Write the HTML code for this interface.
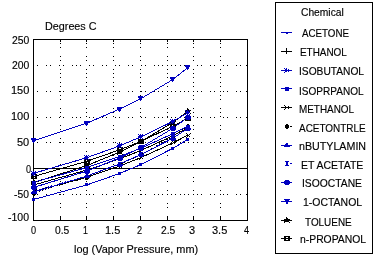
<!DOCTYPE html><html><head><meta charset="utf-8"><style>html,body{margin:0;padding:0;background:#fff;width:379px;height:260px;overflow:hidden}svg{position:absolute;left:0;top:0;will-change:transform}text{font-family:"Liberation Sans",sans-serif;font-size:11px;fill:#000;stroke:#000;stroke-width:0.15px}</style></head><body>
<svg width="379" height="260" viewBox="0 0 379 260">
<path d="M60,43h1v1h-1zM60,47h1v1h-1zM60,56h1v1h-1zM60,60h1v1h-1zM60,69h1v1h-1zM60,73h1v1h-1zM60,77h1v1h-1zM60,82h1v1h-1zM60,86h1v1h-1zM60,91h1v1h-1zM60,95h1v1h-1zM60,99h1v1h-1zM60,108h1v1h-1zM60,112h1v1h-1zM60,116h1v1h-1zM60,125h1v1h-1zM60,129h1v1h-1zM60,138h1v1h-1zM60,142h1v1h-1zM60,151h1v1h-1zM60,155h1v1h-1zM60,164h1v1h-1zM60,177h1v1h-1zM60,181h1v1h-1zM60,190h1v1h-1zM60,194h1v1h-1zM60,203h1v1h-1zM60,207h1v1h-1zM60,216h1v4h-1zM60,40h1v2h-1zM86,43h1v1h-1zM86,47h1v1h-1zM86,56h1v1h-1zM86,60h1v1h-1zM86,69h1v1h-1zM86,73h1v1h-1zM86,77h1v1h-1zM86,82h1v1h-1zM86,86h1v1h-1zM86,91h1v1h-1zM86,95h1v1h-1zM86,99h1v1h-1zM86,108h1v1h-1zM86,112h1v1h-1zM86,116h1v1h-1zM86,125h1v1h-1zM86,129h1v1h-1zM86,138h1v1h-1zM86,142h1v1h-1zM86,151h1v1h-1zM86,155h1v1h-1zM86,164h1v1h-1zM86,177h1v1h-1zM86,181h1v1h-1zM86,190h1v1h-1zM86,194h1v1h-1zM86,203h1v1h-1zM86,207h1v1h-1zM86,216h1v4h-1zM86,40h1v2h-1zM113,43h1v1h-1zM113,47h1v1h-1zM113,56h1v1h-1zM113,60h1v1h-1zM113,69h1v1h-1zM113,73h1v1h-1zM113,77h1v1h-1zM113,82h1v1h-1zM113,86h1v1h-1zM113,91h1v1h-1zM113,95h1v1h-1zM113,99h1v1h-1zM113,108h1v1h-1zM113,112h1v1h-1zM113,116h1v1h-1zM113,125h1v1h-1zM113,129h1v1h-1zM113,138h1v1h-1zM113,142h1v1h-1zM113,151h1v1h-1zM113,155h1v1h-1zM113,164h1v1h-1zM113,177h1v1h-1zM113,181h1v1h-1zM113,190h1v1h-1zM113,194h1v1h-1zM113,203h1v1h-1zM113,207h1v1h-1zM113,216h1v4h-1zM113,40h1v2h-1zM140,43h1v1h-1zM140,47h1v1h-1zM140,56h1v1h-1zM140,60h1v1h-1zM140,69h1v1h-1zM140,73h1v1h-1zM140,77h1v1h-1zM140,82h1v1h-1zM140,86h1v1h-1zM140,91h1v1h-1zM140,95h1v1h-1zM140,99h1v1h-1zM140,108h1v1h-1zM140,112h1v1h-1zM140,116h1v1h-1zM140,125h1v1h-1zM140,129h1v1h-1zM140,138h1v1h-1zM140,142h1v1h-1zM140,151h1v1h-1zM140,155h1v1h-1zM140,164h1v1h-1zM140,177h1v1h-1zM140,181h1v1h-1zM140,190h1v1h-1zM140,194h1v1h-1zM140,203h1v1h-1zM140,207h1v1h-1zM140,216h1v4h-1zM140,40h1v2h-1zM167,43h1v1h-1zM167,47h1v1h-1zM167,56h1v1h-1zM167,60h1v1h-1zM167,69h1v1h-1zM167,73h1v1h-1zM167,77h1v1h-1zM167,82h1v1h-1zM167,86h1v1h-1zM167,91h1v1h-1zM167,95h1v1h-1zM167,99h1v1h-1zM167,108h1v1h-1zM167,112h1v1h-1zM167,116h1v1h-1zM167,125h1v1h-1zM167,129h1v1h-1zM167,138h1v1h-1zM167,142h1v1h-1zM167,151h1v1h-1zM167,155h1v1h-1zM167,164h1v1h-1zM167,177h1v1h-1zM167,181h1v1h-1zM167,190h1v1h-1zM167,194h1v1h-1zM167,203h1v1h-1zM167,207h1v1h-1zM167,216h1v4h-1zM167,40h1v2h-1zM193,43h1v1h-1zM193,47h1v1h-1zM193,56h1v1h-1zM193,60h1v1h-1zM193,69h1v1h-1zM193,73h1v1h-1zM193,77h1v1h-1zM193,82h1v1h-1zM193,86h1v1h-1zM193,91h1v1h-1zM193,95h1v1h-1zM193,99h1v1h-1zM193,108h1v1h-1zM193,112h1v1h-1zM193,116h1v1h-1zM193,125h1v1h-1zM193,129h1v1h-1zM193,138h1v1h-1zM193,142h1v1h-1zM193,151h1v1h-1zM193,155h1v1h-1zM193,164h1v1h-1zM193,177h1v1h-1zM193,181h1v1h-1zM193,190h1v1h-1zM193,194h1v1h-1zM193,203h1v1h-1zM193,207h1v1h-1zM193,216h1v4h-1zM193,40h1v2h-1zM220,43h1v1h-1zM220,47h1v1h-1zM220,56h1v1h-1zM220,60h1v1h-1zM220,69h1v1h-1zM220,73h1v1h-1zM220,77h1v1h-1zM220,82h1v1h-1zM220,86h1v1h-1zM220,91h1v1h-1zM220,95h1v1h-1zM220,99h1v1h-1zM220,108h1v1h-1zM220,112h1v1h-1zM220,116h1v1h-1zM220,125h1v1h-1zM220,129h1v1h-1zM220,138h1v1h-1zM220,142h1v1h-1zM220,151h1v1h-1zM220,155h1v1h-1zM220,164h1v1h-1zM220,177h1v1h-1zM220,181h1v1h-1zM220,190h1v1h-1zM220,194h1v1h-1zM220,203h1v1h-1zM220,207h1v1h-1zM220,216h1v4h-1zM220,40h1v2h-1zM37,65h1v1h-1zM46,65h1v1h-1zM50,65h1v1h-1zM59,65h1v1h-1zM63,65h1v1h-1zM72,65h1v1h-1zM76,65h1v1h-1zM80,65h1v1h-1zM89,65h1v1h-1zM93,65h1v1h-1zM102,65h1v1h-1zM106,65h1v1h-1zM115,65h1v1h-1zM119,65h1v1h-1zM128,65h1v1h-1zM132,65h1v1h-1zM141,65h1v1h-1zM145,65h1v1h-1zM154,65h1v1h-1zM158,65h1v1h-1zM162,65h1v1h-1zM167,65h1v1h-1zM171,65h1v1h-1zM175,65h1v1h-1zM180,65h1v1h-1zM184,65h1v1h-1zM188,65h1v1h-1zM197,65h1v1h-1zM201,65h1v1h-1zM210,65h1v1h-1zM214,65h1v1h-1zM223,65h1v1h-1zM227,65h1v1h-1zM236,65h1v1h-1zM240,65h1v1h-1zM246,65h1v1h-1zM37,91h1v1h-1zM46,91h1v1h-1zM50,91h1v1h-1zM59,91h1v1h-1zM63,91h1v1h-1zM72,91h1v1h-1zM76,91h1v1h-1zM80,91h1v1h-1zM89,91h1v1h-1zM93,91h1v1h-1zM102,91h1v1h-1zM106,91h1v1h-1zM115,91h1v1h-1zM119,91h1v1h-1zM128,91h1v1h-1zM132,91h1v1h-1zM141,91h1v1h-1zM145,91h1v1h-1zM154,91h1v1h-1zM158,91h1v1h-1zM162,91h1v1h-1zM167,91h1v1h-1zM171,91h1v1h-1zM175,91h1v1h-1zM180,91h1v1h-1zM184,91h1v1h-1zM188,91h1v1h-1zM197,91h1v1h-1zM201,91h1v1h-1zM210,91h1v1h-1zM214,91h1v1h-1zM223,91h1v1h-1zM227,91h1v1h-1zM236,91h1v1h-1zM240,91h1v1h-1zM246,91h1v1h-1zM37,117h1v1h-1zM46,117h1v1h-1zM50,117h1v1h-1zM59,117h1v1h-1zM63,117h1v1h-1zM72,117h1v1h-1zM76,117h1v1h-1zM80,117h1v1h-1zM89,117h1v1h-1zM93,117h1v1h-1zM102,117h1v1h-1zM106,117h1v1h-1zM115,117h1v1h-1zM119,117h1v1h-1zM128,117h1v1h-1zM132,117h1v1h-1zM141,117h1v1h-1zM145,117h1v1h-1zM154,117h1v1h-1zM158,117h1v1h-1zM162,117h1v1h-1zM167,117h1v1h-1zM171,117h1v1h-1zM175,117h1v1h-1zM180,117h1v1h-1zM184,117h1v1h-1zM188,117h1v1h-1zM197,117h1v1h-1zM201,117h1v1h-1zM210,117h1v1h-1zM214,117h1v1h-1zM223,117h1v1h-1zM227,117h1v1h-1zM236,117h1v1h-1zM240,117h1v1h-1zM246,117h1v1h-1zM37,142h1v1h-1zM46,142h1v1h-1zM50,142h1v1h-1zM59,142h1v1h-1zM63,142h1v1h-1zM72,142h1v1h-1zM76,142h1v1h-1zM80,142h1v1h-1zM89,142h1v1h-1zM93,142h1v1h-1zM102,142h1v1h-1zM106,142h1v1h-1zM115,142h1v1h-1zM119,142h1v1h-1zM128,142h1v1h-1zM132,142h1v1h-1zM141,142h1v1h-1zM145,142h1v1h-1zM154,142h1v1h-1zM158,142h1v1h-1zM162,142h1v1h-1zM167,142h1v1h-1zM171,142h1v1h-1zM175,142h1v1h-1zM180,142h1v1h-1zM184,142h1v1h-1zM188,142h1v1h-1zM197,142h1v1h-1zM201,142h1v1h-1zM210,142h1v1h-1zM214,142h1v1h-1zM223,142h1v1h-1zM227,142h1v1h-1zM236,142h1v1h-1zM240,142h1v1h-1zM246,142h1v1h-1zM37,194h1v1h-1zM46,194h1v1h-1zM50,194h1v1h-1zM59,194h1v1h-1zM63,194h1v1h-1zM72,194h1v1h-1zM76,194h1v1h-1zM80,194h1v1h-1zM89,194h1v1h-1zM93,194h1v1h-1zM102,194h1v1h-1zM106,194h1v1h-1zM115,194h1v1h-1zM119,194h1v1h-1zM128,194h1v1h-1zM132,194h1v1h-1zM141,194h1v1h-1zM145,194h1v1h-1zM154,194h1v1h-1zM158,194h1v1h-1zM162,194h1v1h-1zM167,194h1v1h-1zM171,194h1v1h-1zM175,194h1v1h-1zM180,194h1v1h-1zM184,194h1v1h-1zM188,194h1v1h-1zM197,194h1v1h-1zM201,194h1v1h-1zM210,194h1v1h-1zM214,194h1v1h-1zM223,194h1v1h-1zM227,194h1v1h-1zM236,194h1v1h-1zM240,194h1v1h-1zM246,194h1v1h-1z" fill="#000"/>
<path d="M33,168h214v1h-214z" fill="#000"/>
<rect x="33.5" y="39.5" width="214" height="181" fill="none" stroke="#000" shape-rendering="crispEdges"/>
<polyline points="33.5,185.0 87.0,170.0 119.2,159.0 140.5,150.7 172.7,135.9 187.6,128.2" fill="none" stroke="#000000" stroke-width="1" shape-rendering="crispEdges"/>
<polyline points="33.5,191.5 87.0,177.2 119.2,166.2 140.5,157.8 172.7,143.0 187.6,135.3" fill="none" stroke="#000000" stroke-width="1" shape-rendering="crispEdges"/>
<polyline points="33.5,193.1 87.0,177.2 119.2,164.8 140.5,154.8 172.7,136.5 187.6,126.5" fill="none" stroke="#000000" stroke-width="1" stroke-dasharray="1 2" shape-rendering="crispEdges"/>
<polyline points="33.5,182.6 87.0,165.5 119.2,152.3 140.5,141.9 172.7,122.5 187.6,111.6" fill="none" stroke="#000000" stroke-width="1" shape-rendering="crispEdges"/>
<polyline points="33.5,176.5 87.0,161.2 119.2,150.0 140.5,141.5 172.7,126.4 187.6,118.2" fill="none" stroke="#000000" stroke-width="1" shape-rendering="crispEdges"/>
<polyline points="33.5,199.5 87.0,184.9 119.2,173.6 140.5,164.8 172.7,148.4 187.6,139.6" fill="none" stroke="#0000c0" stroke-width="1" shape-rendering="crispEdges"/>
<polyline points="33.5,173.4 87.0,157.6 119.2,146.0 140.5,137.0 172.7,121.5 187.6,112.9" fill="none" stroke="#0000c0" stroke-width="1" shape-rendering="crispEdges"/>
<polyline points="33.5,182.3 87.0,167.5 119.2,156.5 140.5,148.4 172.7,133.7 187.6,126.1" fill="none" stroke="#0000c0" stroke-width="1" shape-rendering="crispEdges"/>
<polyline points="33.5,192.1 87.0,176.0 119.2,164.1 140.5,154.8 172.7,138.3 187.6,128.6" fill="none" stroke="#0000c0" stroke-width="1" shape-rendering="crispEdges"/>
<polyline points="33.5,191.2 87.0,175.8 119.2,164.1 140.5,154.8 172.7,138.1 187.6,128.9" fill="none" stroke="#0000c0" stroke-width="1" stroke-dasharray="1 2" shape-rendering="crispEdges"/>
<polyline points="33.5,187.5 87.0,171.0 119.2,158.1 140.5,147.7 172.7,128.4 187.6,117.5" fill="none" stroke="#0000c0" stroke-width="1" shape-rendering="crispEdges"/>
<polyline points="33.5,140.9 87.0,123.1 119.2,109.2 140.5,98.9 172.7,79.6 187.6,67.8" fill="none" stroke="#0000c0" stroke-width="1" shape-rendering="crispEdges"/>
<path d="M33,181h1v6h-1z" fill="#000000"/>
<path d="M86,166h1v6h-1z" fill="#000000"/>
<path d="M119,155h1v6h-1z" fill="#000000"/>
<path d="M140,147h1v6h-1z" fill="#000000"/>
<path d="M172,132h1v6h-1z" fill="#000000"/>
<path d="M187,125h1v6h-1z" fill="#000000"/>
<path d="M32,189h1v1h-1zM33,190h1v1h-1zM34,191h1v1h-1zM35,190h1v1h-1zM35,192h1v1h-1zM33,192h1v1h-1zM32,193h1v1h-1zM36,189h1v1h-1z" fill="#000000"/>
<path d="M85,175h1v1h-1zM86,176h1v1h-1zM87,177h1v1h-1zM88,176h1v1h-1zM88,178h1v1h-1zM86,178h1v1h-1zM85,179h1v1h-1zM89,175h1v1h-1z" fill="#000000"/>
<path d="M118,164h1v1h-1zM119,165h1v1h-1zM120,166h1v1h-1zM121,165h1v1h-1zM121,167h1v1h-1zM119,167h1v1h-1zM118,168h1v1h-1zM122,164h1v1h-1z" fill="#000000"/>
<path d="M139,155h1v1h-1zM140,156h1v1h-1zM141,157h1v1h-1zM142,156h1v1h-1zM142,158h1v1h-1zM140,158h1v1h-1zM139,159h1v1h-1zM143,155h1v1h-1z" fill="#000000"/>
<path d="M171,140h1v1h-1zM172,141h1v1h-1zM173,142h1v1h-1zM174,141h1v1h-1zM174,143h1v1h-1zM172,143h1v1h-1zM171,144h1v1h-1zM175,140h1v1h-1z" fill="#000000"/>
<path d="M186,133h1v1h-1zM187,134h1v1h-1zM188,135h1v1h-1zM189,134h1v1h-1zM189,136h1v1h-1zM187,136h1v1h-1zM186,137h1v1h-1zM190,133h1v1h-1z" fill="#000000"/>
<path d="M33,191h2v1h-2zM32,192h4v3h-4zM33,195h2v1h-2z" fill="#000000"/>
<path d="M86,175h2v1h-2zM85,176h4v3h-4zM86,179h2v1h-2z" fill="#000000"/>
<path d="M119,162h2v1h-2zM118,163h4v3h-4zM119,166h2v1h-2z" fill="#000000"/>
<path d="M140,152h2v1h-2zM139,153h4v3h-4zM140,156h2v1h-2z" fill="#000000"/>
<path d="M172,134h2v1h-2zM171,135h4v3h-4zM172,138h2v1h-2z" fill="#000000"/>
<path d="M187,124h2v1h-2zM186,125h4v3h-4zM187,128h2v1h-2z" fill="#000000"/>
<path d="M33,179h1v1h-1zM33,180h2v1h-2zM31,181h6v1h-6zM31,182h5v2h-5zM31,184h1v1h-1zM36,184h1v1h-1z" fill="#000000"/>
<path d="M86,162h1v1h-1zM86,163h2v1h-2zM84,164h6v1h-6zM84,165h5v2h-5zM84,167h1v1h-1zM89,167h1v1h-1z" fill="#000000"/>
<path d="M119,149h1v1h-1zM119,150h2v1h-2zM117,151h6v1h-6zM117,152h5v2h-5zM117,154h1v1h-1zM122,154h1v1h-1z" fill="#000000"/>
<path d="M140,138h1v1h-1zM140,139h2v1h-2zM138,140h6v1h-6zM138,141h5v2h-5zM138,143h1v1h-1zM143,143h1v1h-1z" fill="#000000"/>
<path d="M172,119h1v1h-1zM172,120h2v1h-2zM170,121h6v1h-6zM170,122h5v2h-5zM170,124h1v1h-1zM175,124h1v1h-1z" fill="#000000"/>
<path d="M187,108h1v1h-1zM187,109h2v1h-2zM185,110h6v1h-6zM185,111h5v2h-5zM185,113h1v1h-1zM190,113h1v1h-1z" fill="#000000"/>
<path d="M31,174h6v1h-6zM31,175h2v1h-2zM35,175h2v1h-2zM31,176h6v1h-6zM31,177h2v1h-2zM35,177h2v1h-2zM31,178h6v1h-6z" fill="#000000"/>
<path d="M84,159h6v1h-6zM84,160h2v1h-2zM88,160h2v1h-2zM84,161h6v1h-6zM84,162h2v1h-2zM88,162h2v1h-2zM84,163h6v1h-6z" fill="#000000"/>
<path d="M117,147h6v1h-6zM117,148h2v1h-2zM121,148h2v1h-2zM117,149h6v1h-6zM117,150h2v1h-2zM121,150h2v1h-2zM117,151h6v1h-6z" fill="#000000"/>
<path d="M138,139h6v1h-6zM138,140h2v1h-2zM142,140h2v1h-2zM138,141h6v1h-6zM138,142h2v1h-2zM142,142h2v1h-2zM138,143h6v1h-6z" fill="#000000"/>
<path d="M170,124h6v1h-6zM170,125h2v1h-2zM174,125h2v1h-2zM170,126h6v1h-6zM170,127h2v1h-2zM174,127h2v1h-2zM170,128h6v1h-6z" fill="#000000"/>
<path d="M185,116h6v1h-6zM185,117h2v1h-2zM189,117h2v1h-2zM185,118h6v1h-6zM185,119h2v1h-2zM189,119h2v1h-2zM185,120h6v1h-6z" fill="#000000"/>
<path d="M32,198h3v3h-3z" fill="#0000c0"/>
<path d="M85,183h3v3h-3z" fill="#0000c0"/>
<path d="M118,172h3v3h-3z" fill="#0000c0"/>
<path d="M139,163h3v3h-3z" fill="#0000c0"/>
<path d="M171,147h3v3h-3z" fill="#0000c0"/>
<path d="M186,138h3v3h-3z" fill="#0000c0"/>
<path d="M31,171h1v1h-1zM33,171h1v1h-1zM35,171h1v1h-1zM32,172h3v1h-3zM31,173h5v1h-5zM32,174h3v1h-3zM31,175h1v1h-1zM33,175h1v1h-1zM35,175h1v1h-1z" fill="#0000c0"/>
<path d="M84,155h1v1h-1zM86,155h1v1h-1zM88,155h1v1h-1zM85,156h3v1h-3zM84,157h5v1h-5zM85,158h3v1h-3zM84,159h1v1h-1zM86,159h1v1h-1zM88,159h1v1h-1z" fill="#0000c0"/>
<path d="M117,143h1v1h-1zM119,143h1v1h-1zM121,143h1v1h-1zM118,144h3v1h-3zM117,145h5v1h-5zM118,146h3v1h-3zM117,147h1v1h-1zM119,147h1v1h-1zM121,147h1v1h-1z" fill="#0000c0"/>
<path d="M138,134h1v1h-1zM140,134h1v1h-1zM142,134h1v1h-1zM139,135h3v1h-3zM138,136h5v1h-5zM139,137h3v1h-3zM138,138h1v1h-1zM140,138h1v1h-1zM142,138h1v1h-1z" fill="#0000c0"/>
<path d="M170,119h1v1h-1zM172,119h1v1h-1zM174,119h1v1h-1zM171,120h3v1h-3zM170,121h5v1h-5zM171,122h3v1h-3zM170,123h1v1h-1zM172,123h1v1h-1zM174,123h1v1h-1z" fill="#0000c0"/>
<path d="M185,110h1v1h-1zM187,110h1v1h-1zM189,110h1v1h-1zM186,111h3v1h-3zM185,112h5v1h-5zM186,113h3v1h-3zM185,114h1v1h-1zM187,114h1v1h-1zM189,114h1v1h-1z" fill="#0000c0"/>
<path d="M32,181h4v4h-4z" fill="#0000c0"/>
<path d="M85,166h4v4h-4z" fill="#0000c0"/>
<path d="M118,155h4v4h-4z" fill="#0000c0"/>
<path d="M139,147h4v4h-4z" fill="#0000c0"/>
<path d="M171,132h4v4h-4z" fill="#0000c0"/>
<path d="M186,125h4v4h-4z" fill="#0000c0"/>
<path d="M33,190h2v1h-2zM32,191h3v1h-3zM31,193h6v1h-6zM31,192h6v1h-6z" fill="#0000c0"/>
<path d="M86,174h2v1h-2zM85,175h3v1h-3zM84,177h6v1h-6zM84,176h6v1h-6z" fill="#0000c0"/>
<path d="M119,162h2v1h-2zM118,163h3v1h-3zM117,165h6v1h-6zM117,164h6v1h-6z" fill="#0000c0"/>
<path d="M140,152h2v1h-2zM139,153h3v1h-3zM138,155h6v1h-6zM138,154h6v1h-6z" fill="#0000c0"/>
<path d="M172,136h2v1h-2zM171,137h3v1h-3zM170,139h6v1h-6zM170,138h6v1h-6z" fill="#0000c0"/>
<path d="M187,126h2v1h-2zM186,127h3v1h-3zM185,129h6v1h-6zM185,128h6v1h-6z" fill="#0000c0"/>
<path d="M32,189h4v1h-4zM33,190h2v3h-2zM32,193h4v1h-4z" fill="#0000c0"/>
<path d="M85,173h4v1h-4zM86,174h2v3h-2zM85,177h4v1h-4z" fill="#0000c0"/>
<path d="M118,162h4v1h-4zM119,163h2v3h-2zM118,166h4v1h-4z" fill="#0000c0"/>
<path d="M139,152h4v1h-4zM140,153h2v3h-2zM139,156h4v1h-4z" fill="#0000c0"/>
<path d="M171,136h4v1h-4zM172,137h2v3h-2zM171,140h4v1h-4z" fill="#0000c0"/>
<path d="M186,126h4v1h-4zM187,127h2v3h-2zM186,130h4v1h-4z" fill="#0000c0"/>
<path d="M32,185h4v1h-4zM31,186h6v3h-6zM32,189h4v1h-4z" fill="#0000c0"/>
<path d="M85,169h4v1h-4zM84,170h6v3h-6zM85,173h4v1h-4z" fill="#0000c0"/>
<path d="M118,156h4v1h-4zM117,157h6v3h-6zM118,160h4v1h-4z" fill="#0000c0"/>
<path d="M139,145h4v1h-4zM138,146h6v3h-6zM139,149h4v1h-4z" fill="#0000c0"/>
<path d="M171,126h4v1h-4zM170,127h6v3h-6zM171,130h4v1h-4z" fill="#0000c0"/>
<path d="M186,115h4v1h-4zM185,116h6v3h-6zM186,119h4v1h-4z" fill="#0000c0"/>
<path d="M31,138h5v2h-5zM32,140h3v2h-3zM33,142h1v1h-1z" fill="#0000c0"/>
<path d="M84,121h5v2h-5zM85,123h3v2h-3zM86,125h1v1h-1z" fill="#0000c0"/>
<path d="M117,107h5v2h-5zM118,109h3v2h-3zM119,111h1v1h-1z" fill="#0000c0"/>
<path d="M138,96h5v2h-5zM139,98h3v2h-3zM140,100h1v1h-1z" fill="#0000c0"/>
<path d="M170,77h5v2h-5zM171,79h3v2h-3zM172,81h1v1h-1z" fill="#0000c0"/>
<path d="M185,65h5v2h-5zM186,67h3v2h-3zM187,69h1v1h-1z" fill="#0000c0"/>
<rect x="275.5" y="2.5" width="97" height="251" fill="#fff" stroke="#000" shape-rendering="crispEdges"/>
<rect x="281" y="32" width="11" height="1" fill="#0000c0"/>
<path d="M286,33h2v1h-2z" fill="#0000c0"/>
<rect x="281" y="51" width="11" height="1" fill="#000000"/>
<path d="M286,48h1v6h-1z" fill="#000000"/>
<rect x="281" y="70" width="11" height="1" fill="#0000c0"/>
<path d="M284,68h1v1h-1zM286,68h1v1h-1zM284,72h1v1h-1zM285,69h2v3h-2zM288,69h1v3h-1z" fill="#0000c0"/>
<rect x="281" y="88" width="11" height="1" fill="#0000c0"/>
<path d="M285,87h4v4h-4z" fill="#0000c0"/>
<rect x="281" y="107" width="11" height="1" fill="#000000"/>
<path d="M284,105h1v1h-1zM284,109h1v1h-1zM285,106h1v3h-1zM288,106h1v3h-1z" fill="#000000"/>
<rect x="290" y="126" width="2" height="1" fill="#000000"/>
<path d="M286,124h2v1h-2zM285,125h4v3h-4zM286,128h2v1h-2z" fill="#000000"/>
<rect x="281" y="145" width="11" height="1" fill="#0000c0"/>
<path d="M286,143h2v1h-2zM285,144h3v1h-3zM284,146h6v1h-6zM284,145h6v1h-6z" fill="#0000c0"/>
<rect x="290" y="163" width="2" height="1" fill="#0000c0"/>
<path d="M285,161h4v1h-4zM286,162h2v3h-2zM285,165h4v1h-4z" fill="#0000c0"/>
<rect x="281" y="182" width="11" height="1" fill="#0000c0"/>
<path d="M285,180h4v1h-4zM284,181h6v3h-6zM285,184h4v1h-4z" fill="#0000c0"/>
<rect x="281" y="201" width="11" height="1" fill="#0000c0"/>
<path d="M284,199h6v1h-6zM285,200h4v2h-4zM286,202h2v2h-2z" fill="#0000c0"/>
<rect x="281" y="220" width="11" height="1" fill="#000000"/>
<path d="M286,217h1v1h-1zM286,218h2v1h-2zM284,219h6v1h-6zM284,220h5v2h-5zM284,222h1v1h-1zM289,222h1v1h-1z" fill="#000000"/>
<rect x="281" y="238" width="11" height="1" fill="#000000"/>
<path d="M284,236h6v1h-6zM284,237h2v1h-2zM288,237h2v1h-2zM284,238h6v1h-6zM284,239h2v1h-2zM288,239h2v1h-2zM284,240h6v1h-6z" fill="#000000"/>
<text x="302" y="37" textLength="46.99" lengthAdjust="spacingAndGlyphs">ACETONE</text>
<text x="300" y="56" textLength="46.87" lengthAdjust="spacingAndGlyphs">ETHANOL</text>
<text x="299" y="75" textLength="65.01" lengthAdjust="spacingAndGlyphs">ISOBUTANOL</text>
<text x="299" y="95" textLength="64.57" lengthAdjust="spacingAndGlyphs">ISOPRPANOL</text>
<text x="299" y="113" textLength="55.01" lengthAdjust="spacingAndGlyphs">METHANOL</text>
<text x="299" y="132" textLength="66.69" lengthAdjust="spacingAndGlyphs">ACETONTRLE</text>
<text x="299" y="150" textLength="67.06" lengthAdjust="spacingAndGlyphs">nBUTYLAMIN</text>
<text x="301" y="169" textLength="62.34" lengthAdjust="spacingAndGlyphs">ET ACETATE</text>
<text x="302" y="187" textLength="59.96" lengthAdjust="spacingAndGlyphs">ISOOCTANE</text>
<text x="303" y="206" textLength="59.08" lengthAdjust="spacingAndGlyphs">1-OCTANOL</text>
<text x="305" y="226" textLength="46.69" lengthAdjust="spacingAndGlyphs">TOLUENE</text>
<text x="300" y="243" textLength="66.03" lengthAdjust="spacingAndGlyphs">n-PROPANOL</text>
<text x="301" y="16" textLength="42.76" lengthAdjust="spacingAndGlyphs">Chemical</text>
<text x="45" y="30" textLength="51.55" lengthAdjust="spacingAndGlyphs">Degrees C</text>
<text x="74" y="253" textLength="124.10" lengthAdjust="spacingAndGlyphs">log (Vapor Pressure, mm)</text>
<text x="12" y="44" textLength="17.34" lengthAdjust="spacingAndGlyphs">250</text>
<text x="12" y="69" textLength="17.34" lengthAdjust="spacingAndGlyphs">200</text>
<text x="11" y="94" textLength="18.36" lengthAdjust="spacingAndGlyphs">150</text>
<text x="11" y="120" textLength="18.36" lengthAdjust="spacingAndGlyphs">100</text>
<text x="17" y="146" textLength="12.25" lengthAdjust="spacingAndGlyphs">50</text>
<text x="26" y="173" textLength="5.10" lengthAdjust="spacingAndGlyphs">0</text>
<text x="14" y="198" textLength="14.91" lengthAdjust="spacingAndGlyphs">-50</text>
<text x="8" y="221" textLength="21.03" lengthAdjust="spacingAndGlyphs">-100</text>
<text x="31" y="234" textLength="5.10" lengthAdjust="spacingAndGlyphs">0</text>
<text x="55" y="234" textLength="14.28" lengthAdjust="spacingAndGlyphs">0.5</text>
<text x="83" y="234" textLength="4.90" lengthAdjust="spacingAndGlyphs">1</text>
<text x="105" y="234" textLength="15.30" lengthAdjust="spacingAndGlyphs">1.5</text>
<text x="137" y="234" textLength="5.10" lengthAdjust="spacingAndGlyphs">2</text>
<text x="161" y="234" textLength="14.28" lengthAdjust="spacingAndGlyphs">2.5</text>
<text x="189" y="234" textLength="6.12" lengthAdjust="spacingAndGlyphs">3</text>
<text x="212" y="234" textLength="15.30" lengthAdjust="spacingAndGlyphs">3.5</text>
<text x="244" y="234" textLength="5.10" lengthAdjust="spacingAndGlyphs">4</text>
</svg></body></html>
